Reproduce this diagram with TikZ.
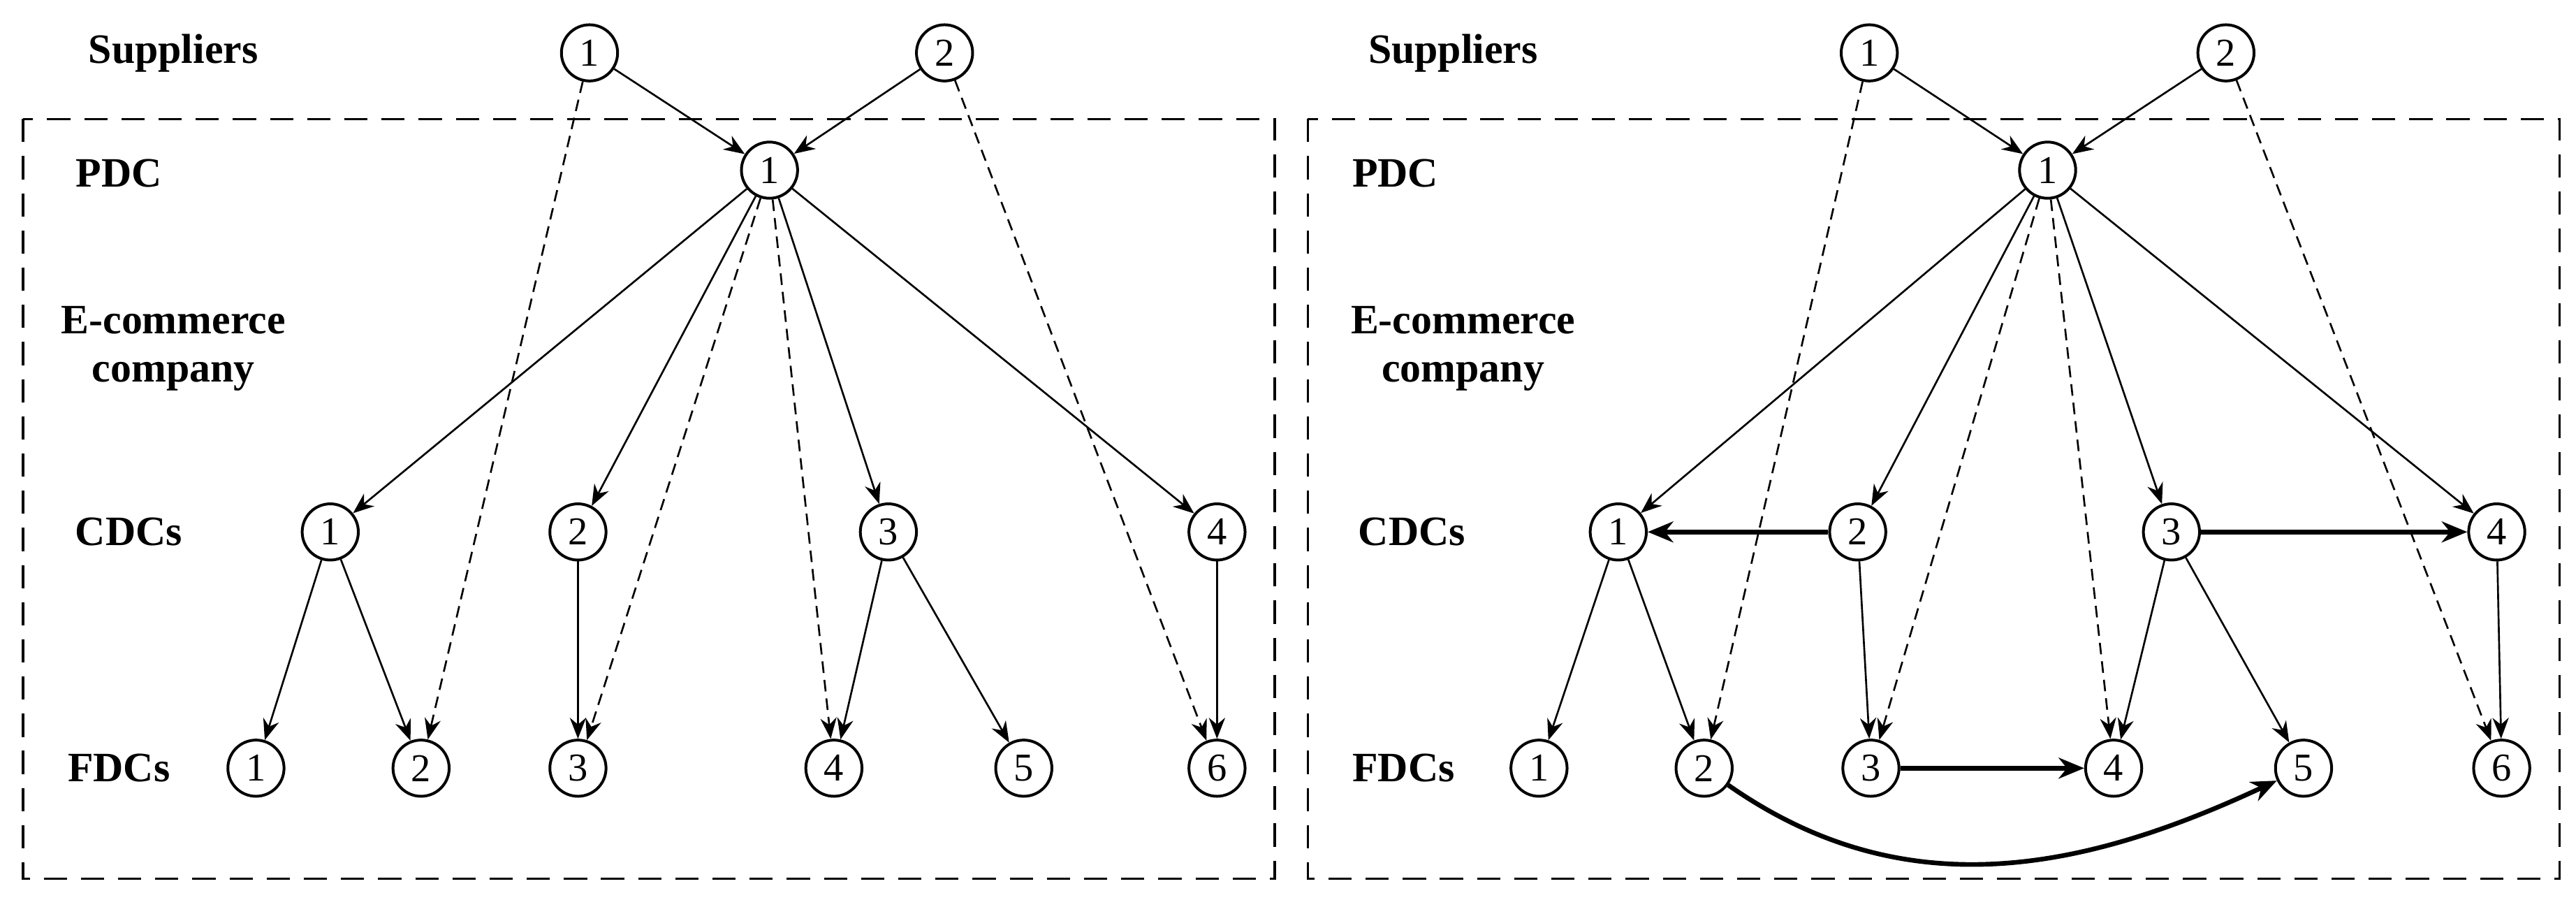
\documentclass[tikz,border=0pt]{standalone}
\usepackage{fontspec}
\setmainfont{Liberation Serif}
\usetikzlibrary{arrows.meta}
\tikzset{
  site/.style={circle, draw=black, line width=1.2pt, minimum size=0.85cm, inner sep=0pt, font=\fontsize{17}{17}\selectfont},
  layer/.style={font=\fontsize{18}{21}\selectfont\bfseries, align=center},
  flow/.style={line width=0.8pt, -{Stealth[length=9pt,width=7pt]}},
  direct/.style={flow, dashed, dash pattern=on 5pt off 3pt},
  transfer/.style={line width=2pt, -{Stealth[length=11pt,width=9pt]}},
  frame/.style={line width=1pt, dash pattern=on 10pt off 6pt}
}
\begin{document}
\begin{tikzpicture}[x=0.025cm, y=-0.025cm]
\useasboundingbox (0,0) rectangle (1560,553);
% left panel
\draw [frame] (14,72) rectangle (772,532);
\node [layer] (supL) at (105,32) {Suppliers};
\node [layer] (pdcL) at (72,105) {PDC};
\node [layer] (ecL) at (105,211) {E-commerce\\company};
\node [layer] (cdcL) at (78,322) {CDCs};
\node [layer] (fdcL) at (72,465) {FDCs};
\node [site] (as1) at (357,32) {1};
\node [site] (as2) at (572,32) {2};
\node [site] (ap) at (466,103) {1};
\node [site] (ac1) at (200,322) {1};
\node [site] (ac2) at (350,322) {2};
\node [site] (ac3) at (538,322) {3};
\node [site] (ac4) at (737,322) {4};
\node [site] (af1) at (155,465) {1};
\node [site] (af2) at (255,465) {2};
\node [site] (af3) at (350,465) {3};
\node [site] (af4) at (505,465) {4};
\node [site] (af5) at (620,465) {5};
\node [site] (af6) at (737,465) {6};
\draw [flow] (as1) -- (ap);
\draw [flow] (as2) -- (ap);
\draw [direct] (as1) -- (af2);
\draw [direct] (as2) -- (af6);
\foreach \c in {ac1,ac2,ac3,ac4} \draw [flow] (ap) -- (\c);
\draw [direct] (ap) -- (af3);
\draw [direct] (ap) -- (af4);
\draw [flow] (ac1) -- (af1);
\draw [flow] (ac1) -- (af2);
\draw [flow] (ac2) -- (af3);
\draw [flow] (ac3) -- (af4);
\draw [flow] (ac3) -- (af5);
\draw [flow] (ac4) -- (af6);
% right panel
\draw [frame] (792,72) rectangle (1550,532);
\node [layer] (supR) at (880,32) {Suppliers};
\node [layer] (pdcR) at (845,105) {PDC};
\node [layer] (ecR) at (886,211) {E-commerce\\company};
\node [layer] (cdcR) at (855,322) {CDCs};
\node [layer] (fdcR) at (850,465) {FDCs};
\node [site] (bs1) at (1132,32) {1};
\node [site] (bs2) at (1348,32) {2};
\node [site] (bp) at (1240,103) {1};
\node [site] (bc1) at (980,322) {1};
\node [site] (bc2) at (1125,322) {2};
\node [site] (bc3) at (1315,322) {3};
\node [site] (bc4) at (1512,322) {4};
\node [site] (bf1) at (932,465) {1};
\node [site] (bf2) at (1032,465) {2};
\node [site] (bf3) at (1133,465) {3};
\node [site] (bf4) at (1280,465) {4};
\node [site] (bf5) at (1395,465) {5};
\node [site] (bf6) at (1515,465) {6};
\draw [flow] (bs1) -- (bp);
\draw [flow] (bs2) -- (bp);
\draw [direct] (bs1) -- (bf2);
\draw [direct] (bs2) -- (bf6);
\foreach \c in {bc1,bc2,bc3,bc4} \draw [flow] (bp) -- (\c);
\draw [direct] (bp) -- (bf3);
\draw [direct] (bp) -- (bf4);
\draw [flow] (bc1) -- (bf1);
\draw [flow] (bc1) -- (bf2);
\draw [flow] (bc2) -- (bf3);
\draw [flow] (bc3) -- (bf4);
\draw [flow] (bc3) -- (bf5);
\draw [flow] (bc4) -- (bf6);
\draw [transfer] (bc2) -- (bc1);
\draw [transfer] (bc3) -- (bc4);
\draw [transfer] (bf3) -- (bf4);
\draw [transfer] (bf2) to [out=-35, in=-155] (bf5);
\end{tikzpicture}
\end{document}
